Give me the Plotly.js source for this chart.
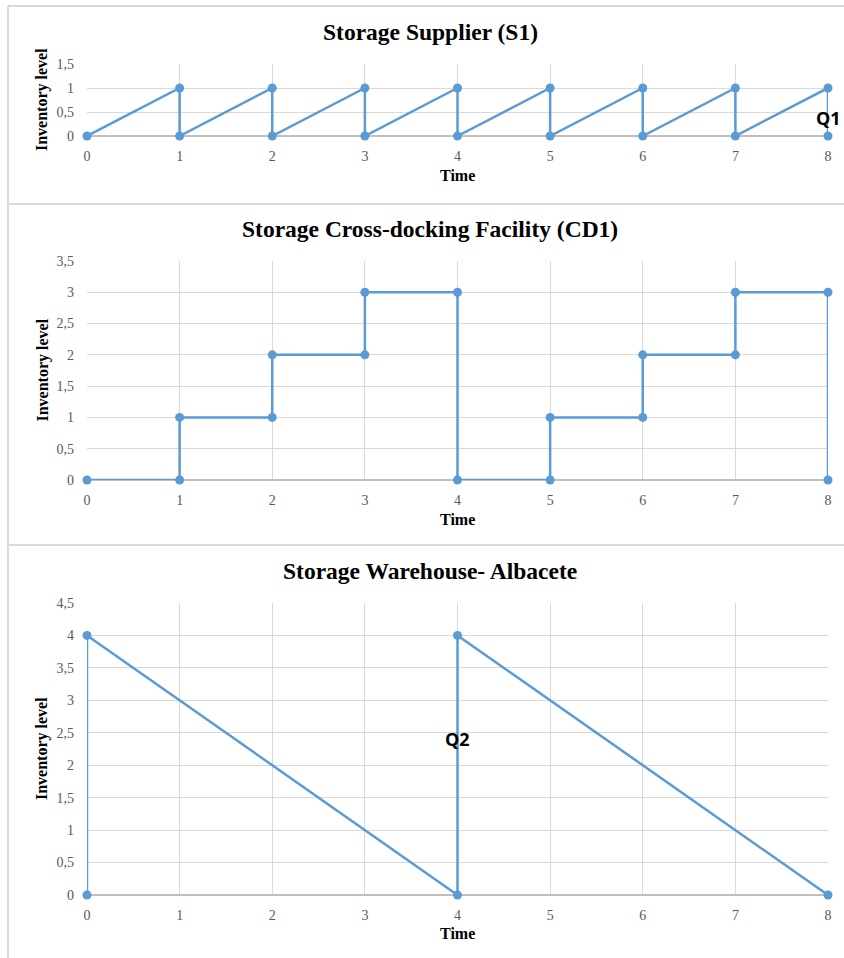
<!DOCTYPE html>
<html>
<head>
<meta charset="utf-8">
<script src="https://cdn.plot.ly/plotly-3.0.1.min.js"></script>
<style>html,body{margin:0;padding:0;background:#fff;}#chart{width:844px;height:958px;}</style>
</head>
<body>
<div id="chart"></div>
<script>
// ---- data ----
const s1Time = [0, 1, 1, 2, 2, 3, 3, 4, 4, 5, 5, 6, 6, 7, 7, 8, 8];
const s1Level = [0, 1, 0, 1, 0, 1, 0, 1, 0, 1, 0, 1, 0, 1, 0, 1, 0];
const cdTime = [0, 1, 1, 2, 2, 3, 3, 4, 4, 5, 5, 6, 6, 7, 7, 8, 8];
const cdLevel = [0, 0, 1, 1, 2, 2, 3, 3, 0, 0, 1, 1, 2, 2, 3, 3, 0];
const whTime = [0, 0, 4, 4, 8];
const whLevel = [0, 4, 0, 4, 0];
const titles = ["Storage Supplier (S1)", "Storage Cross-docking Facility (CD1)", "Storage Warehouse- Albacete"];
const xTicks = [0, 1, 2, 3, 4, 5, 6, 7, 8];
const yMax = [1.5, 3.5, 4.5];
const notes = [{text: "Q1", x: 8, y: 0.38, ax: "1"}, {text: "Q2", x: 4, y: 2.4, ax: "3"}];

const W = 844, H = 958;
const px = v => v / W;
const py = v => 1 - v / H;
const blue = "#5B9BD5";
const serif = "Liberation Serif, Times New Roman, serif";

// plot-area pixel boxes [top, bottom]
const boxes = [[64, 136], [261, 480], [603, 895]];
const xL = 87, xR = 828;
const titleX = 430;
const titleY = [32, 229, 571];
const timeY = [176, 519, 933];

const series = [[s1Time, s1Level], [cdTime, cdLevel], [whTime, whLevel]];
const traces = series.map((s, i) => ({
  x: s[0], y: s[1], type: "scatter", mode: "lines+markers",
  xaxis: i === 0 ? "x" : "x" + (i + 1), yaxis: i === 0 ? "y" : "y" + (i + 1),
  line: {color: blue, width: 2.5},
  marker: {color: blue, size: 9},
  cliponaxis: false, showlegend: false, hoverinfo: "skip"
}));

const layout = {
  width: W, height: H,
  margin: {l: 0, r: 0, t: 0, b: 0},
  paper_bgcolor: "#fff", plot_bgcolor: "#fff",
  separators: ",.",
  showlegend: false,
  annotations: [], shapes: []
};

boxes.forEach((b, i) => {
  const sfx = i === 0 ? "" : String(i + 1);
  layout["xaxis" + sfx] = {
    domain: [px(xL), px(xR)], anchor: "y" + sfx,
    range: [0, 8], tickvals: xTicks, showgrid: true, gridcolor: "#d9d9d9", gridwidth: 1,
    zeroline: false, showline: false, ticks: "",
    ticklabelstandoff: 10,
    tickfont: {family: serif, size: 14, color: "#595959"}, fixedrange: true
  };
  layout["yaxis" + sfx] = {
    domain: [py(b[1]), py(b[0])], anchor: "x" + sfx,
    range: [0, yMax[i]], dtick: 0.5, showgrid: true, gridcolor: "#d9d9d9", gridwidth: 1,
    zeroline: true, zerolinecolor: "#bfbfbf", zerolinewidth: 1.5, showline: false, ticks: "",
    ticklabelstandoff: 12,
    tickfont: {family: serif, size: 14, color: "#595959"}, fixedrange: true
  };
  layout.annotations.push({
    xref: "paper", yref: "paper", x: px(titleX), y: py(titleY[i]),
    text: "<b>" + titles[i] + "</b>", showarrow: false,
    font: {family: serif, size: 23.5, color: "#000"}, xanchor: "center", yanchor: "middle"
  });
  layout.annotations.push({
    xref: "paper", yref: "paper", x: px((xL + xR) / 2), y: py(timeY[i]),
    text: "<b>Time</b>", showarrow: false,
    font: {family: serif, size: 16, color: "#000"}, xanchor: "center", yanchor: "middle"
  });
  layout.annotations.push({
    xref: "paper", yref: "paper", x: px(42), y: py((b[0] + b[1]) / 2),
    text: "<b>Inventory level</b>", showarrow: false, textangle: -90,
    font: {family: serif, size: 16, color: "#000"}, xanchor: "center", yanchor: "middle"
  });
});

notes.forEach(n => {
  layout.annotations.push({
    xref: "x" + (n.ax === "1" ? "" : n.ax), yref: "y" + (n.ax === "1" ? "" : n.ax),
    x: n.x, y: n.y, text: "<b>" + n.text + "</b>", showarrow: false,
    font: {family: "Open Sans, Liberation Sans, sans-serif", size: 18, color: "#000"},
    xanchor: "center", yanchor: "middle"
  });
});

// panel borders
const bc = "#d9d9d9";
layout.shapes.push(
  {type: "line", xref: "paper", yref: "paper", x0: px(8), x1: px(8), y0: py(6), y1: py(960), line: {color: bc, width: 2}},
  {type: "line", xref: "paper", yref: "paper", x0: px(8), x1: px(846), y0: py(6), y1: py(6), line: {color: bc, width: 2}},
  {type: "line", xref: "paper", yref: "paper", x0: px(8), x1: px(846), y0: py(204), y1: py(204), line: {color: bc, width: 2}},
  {type: "line", xref: "paper", yref: "paper", x0: px(8), x1: px(846), y0: py(545), y1: py(545), line: {color: bc, width: 2}}
);

Plotly.newPlot("chart", traces, layout, {staticPlot: true, displayModeBar: false});
</script>
</body>
</html>
